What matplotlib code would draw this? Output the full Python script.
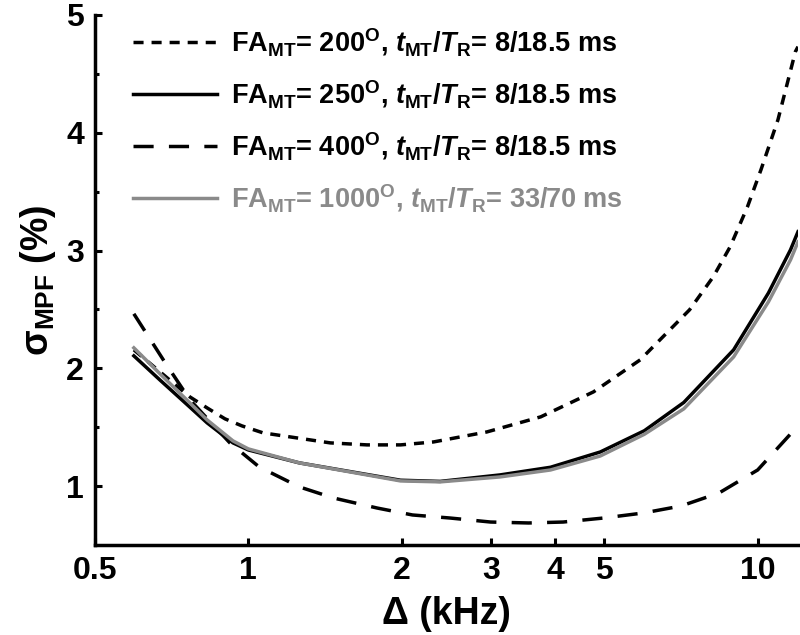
import numpy as np
import matplotlib
matplotlib.use('Agg')
import matplotlib.pyplot as plt
from matplotlib.ticker import FixedLocator, FixedFormatter, NullLocator

plt.rcParams['font.family'] = ['Liberation Sans', 'DejaVu Sans']
plt.rcParams['font.weight'] = 'bold'
plt.rcParams['mathtext.fontset'] = 'custom'
plt.rcParams['mathtext.rm'] = 'Liberation Sans:bold'
plt.rcParams['mathtext.bf'] = 'Liberation Sans:bold'
plt.rcParams['mathtext.it'] = 'Liberation Sans:bold:italic'

# sigma_MPF (%) vs offset frequency (kHz)
freq_200 = [0.596, 0.708, 0.768, 0.83, 0.90, 0.972, 1.069, 1.448, 1.71, 1.99, 2.31, 2.94, 3.75,
            4.76, 5.88, 7.35, 8.18, 8.83, 9.55, 10.15, 10.96, 11.86, 12.0]
sig_200 = [2.157, 1.885, 1.757, 1.664, 1.571, 1.511, 1.452, 1.367, 1.35, 1.35, 1.375, 1.46, 1.588,
           1.80, 2.072, 2.497, 2.777, 3.032, 3.372, 3.686, 4.11, 4.689, 4.731]

freq_250 = [0.596, 0.671, 0.768, 0.83, 0.933, 1.0, 1.26, 1.99, 2.38, 3.12, 3.92, 4.91, 5.99, 7.16,
            8.97, 10.5, 11.6, 12.0]
sig_250 = [2.106, 1.90, 1.67, 1.537, 1.367, 1.307, 1.197, 1.05, 1.04, 1.095, 1.16, 1.29, 1.47, 1.71,
           2.157, 2.64, 3.006, 3.16]

freq_400 = [0.596, 0.687, 0.768, 0.92, 1.05, 1.26, 1.47, 1.79, 2.10, 2.49, 2.99, 3.55, 4.15,
            4.98, 5.97, 7.07, 8.4, 10.0, 11.7, 12.0]
sig_400 = [2.463, 2.046, 1.732, 1.367, 1.163, 0.993, 0.899, 0.814, 0.755, 0.729, 0.695, 0.687, 0.695,
           0.729, 0.772, 0.831, 0.942, 1.137, 1.46, 1.52]

freq_1000 = [0.596, 0.671, 0.768, 0.83, 0.933, 1.0, 1.26, 1.99, 2.38, 3.12, 3.92, 4.91, 5.99, 7.16,
             8.97, 10.5, 11.6, 12.0]
sig_1000 = [2.174, 1.953, 1.706, 1.562, 1.384, 1.316, 1.197, 1.044, 1.036, 1.078, 1.137, 1.256, 1.44, 1.656,
            2.097, 2.565, 2.921, 3.074]

labels = [r'FA$_{\mathrm{MT}}$= 200$^{\mathrm{O}}$, $t_{\mathrm{MT}}$/$T_{\mathrm{R}}$= 8/18.5 ms',
          r'FA$_{\mathrm{MT}}$= 250$^{\mathrm{O}}$, $t_{\mathrm{MT}}$/$T_{\mathrm{R}}$= 8/18.5 ms',
          r'FA$_{\mathrm{MT}}$= 400$^{\mathrm{O}}$, $t_{\mathrm{MT}}$/$T_{\mathrm{R}}$= 8/18.5 ms',
          r'FA$_{\mathrm{MT}}$= 1000$^{\mathrm{O}}$, $t_{\mathrm{MT}}$/$T_{\mathrm{R}}$= 33/70 ms']

xticks = [0.5, 1, 2, 3, 4, 5, 10]
xticklabels = ['0.5', '1', '2', '3', '4', '5', '10']
yticks = [1, 2, 3, 4, 5]

grey = '#8a8a8a'

fig = plt.figure(figsize=(8, 6.35), dpi=100)
ax = fig.add_axes([95/800, 90/635, 703/800, 530/635])

lw = 2.5
ax.plot(freq_200, sig_200, color='black', lw=lw, dashes=(2.9, 2.3), label=labels[0])
ax.plot(freq_250, sig_250, color='black', lw=lw, label=labels[1])
ax.plot(freq_400, sig_400, color='black', lw=lw, dashes=(5.8, 4.4), label=labels[2])
ax.plot(freq_1000, sig_1000, color=grey, lw=lw, label=labels[3])

ax.set_xscale('log')
ax.set_xlim(0.5, 12.0)
ax.set_ylim(0.5, 5)

ax.xaxis.set_major_locator(FixedLocator(xticks))
ax.xaxis.set_major_formatter(FixedFormatter(xticklabels))
ax.xaxis.set_minor_locator(NullLocator())
ax.yaxis.set_major_locator(FixedLocator(yticks))
ax.yaxis.set_minor_locator(FixedLocator([1.5, 2.5, 3.5, 4.5]))

for s in ['top', 'right']:
    ax.spines[s].set_visible(False)
for s in ['left', 'bottom']:
    ax.spines[s].set_linewidth(2.5)

ax.tick_params(which='major', direction='in', length=5, width=2.2, labelsize=23, pad=8)
ax.tick_params(which='minor', direction='in', length=3, width=2.2)

ax.set_xlabel('Δ (kHz)', fontsize=27, fontweight='bold', labelpad=7)
ax.set_ylabel(r'σ$_{\mathrm{MPF}}$ (%)', fontsize=27, fontweight='bold', labelpad=6)

leg = ax.legend(loc='upper left', bbox_to_anchor=(0.02, 1.025), frameon=False,
                fontsize=19.5, handlelength=3.1, handletextpad=0.5, labelspacing=0.75)
leg.get_texts()[3].set_color(grey)

fig.savefig('out.png', dpi=100)
